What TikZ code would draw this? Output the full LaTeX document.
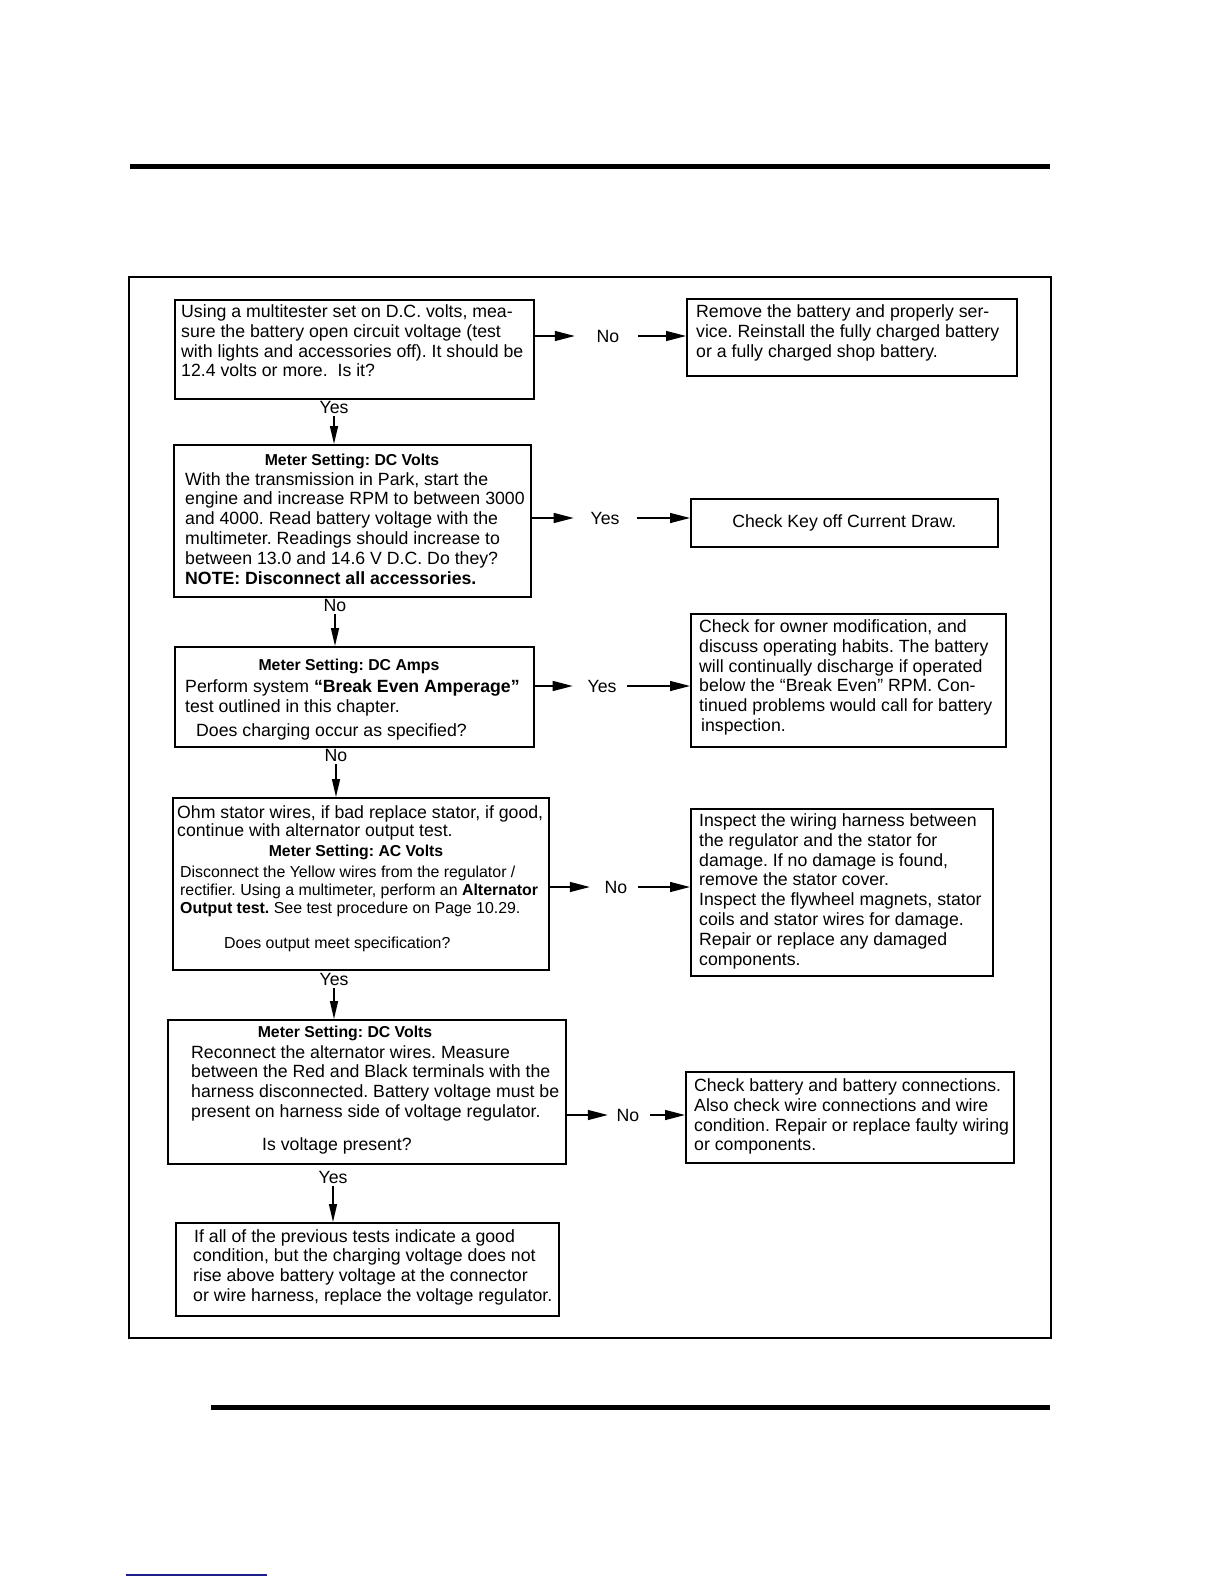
\documentclass[tikz,border=0pt]{standalone}
\usepackage{fontspec}
\setmainfont{Liberation Sans}
\usetikzlibrary{arrows.meta}
\definecolor{linkblue}{RGB}{30,30,140}
\frenchspacing
\newcommand{\fsmain}{\fontsize{17.7}{19.8}\selectfont}
\newcommand{\fssmall}{\fontsize{15.9}{18}\selectfont}
\newcommand{\fshdr}{\bfseries\fontsize{15.8}{18}\selectfont}
\tikzset{
  box/.style={draw, line width=1.6pt, inner sep=0pt, anchor=north west},
  txt/.style={inner sep=0pt, anchor=north west, align=left, font=\fsmain},
  smalltxt/.style={inner sep=0pt, anchor=north west, align=left, font=\fssmall},
  hdr/.style={inner sep=0pt, font=\fshdr},
  lab/.style={inner sep=0pt, font=\fsmain},
  harr/.style={line width=1.4pt, -{Triangle[length=20pt,width=10pt]}},
  varr/.style={line width=1.4pt, -{Triangle[length=18pt,width=8pt]}},
}
\begin{document}
\begin{tikzpicture}[x=1pt,y=-1pt]
\useasboundingbox (0,0) rectangle (1224,1584);
% page rules and frame
\draw[line width=5pt] (130,166) -- (1050,166);
\draw[line width=5pt] (211,1407) -- (1050,1407);
\draw[line width=1.8pt] (129,277) rectangle (1051,1338);
\draw[linkblue, line width=1.2pt] (126,1575) -- (267,1575);

% left column boxes
\node[box, minimum width=359pt, minimum height=99pt]  (B1) at (174,299) {};
\node[box, minimum width=357pt, minimum height=152pt] (B2) at (173,444) {};
\node[box, minimum width=359pt, minimum height=100pt] (B3) at (174,646) {};
\node[box, minimum width=376pt, minimum height=172pt] (B4) at (172,797) {};
\node[box, minimum width=398pt, minimum height=144pt] (B5) at (167,1019) {};
\node[box, minimum width=383pt, minimum height=93pt]  (B6) at (175,1222) {};

% right column boxes
\node[box, minimum width=330pt, minimum height=77pt]  (R1) at (686,298) {};
\node[box, minimum width=307pt, minimum height=48pt, font=\fsmain] (R2) at (690,498) {Check Key off Current Draw.};
\node[box, minimum width=315pt, minimum height=133pt] (R3) at (690,613) {};
\node[box, minimum width=302pt, minimum height=167pt] (R4) at (690,808) {};
\node[box, minimum width=328pt, minimum height=91pt]  (R5) at (685,1071) {};

% texts in left boxes
\node[txt] (tB1) at (181,304.5) {Using a multitester set on D.C. volts, mea-\\
sure the battery open circuit voltage (test\\
with lights and accessories off). It should be\\
12.4 volts or more.\ \ Is it?};

\node[hdr] (hB2) at (352,461) {Meter Setting: DC Volts};
\node[txt] (tB2) at (185,472) {With the transmission in Park, start the\\
engine and increase RPM to between 3000\\
and 4000. Read battery voltage with the\\
multimeter. Readings should increase to\\
between 13.0 and 14.6 V D.C. Do they?\\
\textbf{NOTE: Disconnect all accessories.}};

\node[hdr] (hB3) at (349,666.5) {Meter Setting: DC Amps};
\node[txt] (tB3) at (185,679.5) {Perform system \textbf{“Break Even Amperage”}\\
test outlined in this chapter.\\[4.2pt]
\hspace*{11pt}Does charging occur as specified?};

\node[txt, font=\fontsize{17.7}{18}\selectfont] (tB4a) at (177,805) {Ohm stator wires, if bad replace stator, if good,\\
continue with alternator output test.};
\node[hdr] (hB4) at (356,852) {Meter Setting: AC Volts};
\node[smalltxt] (tB4b) at (180,866) {Disconnect the Yellow wires from the regulator /\\
rectifier. Using a multimeter, perform an \textbf{Alternator}\\
\textbf{Output test.} See test procedure on Page 10.29.\\[17pt]
\hspace*{44pt}Does output meet specification?};

\node[hdr] (hB5) at (345,1033) {Meter Setting: DC Volts};
\node[txt] (tB5) at (191,1045) {Reconnect the alternator wires. Measure\\
between the Red and Black terminals with the\\
harness disconnected. Battery voltage must be\\
present on harness side of voltage regulator.\\[13.2pt]
\hspace*{71pt}Is voltage present?};

\node[txt] (tB6) at (193,1229) {\hspace*{1pt}If all of the previous tests indicate a good\\
condition, but the charging voltage does not\\
rise above battery voltage at the connector\\
or wire harness, replace the voltage regulator.};

% texts in right boxes
\node[txt] (tR1) at (696,304.5) {Remove the battery and properly ser-\\
vice. Reinstall the fully charged battery\\
or a fully charged shop battery.};

\node[txt] (tR3) at (699,619.5) {Check for owner modification, and\\
discuss operating habits. The battery\\
will continually discharge if operated\\
below the “Break Even” RPM. Con-\\
tinued problems would call for battery\\
\hspace*{2pt}inspection.};

\node[txt] (tR4) at (699,813.5) {Inspect the wiring harness between\\
the regulator and the stator for\\
damage. If no damage is found,\\
remove the stator cover.\\
Inspect the flywheel magnets, stator\\
coils and stator wires for damage.\\
Repair or replace any damaged\\
components.};

\node[txt] (tR5) at (694,1078.5) {Check battery and battery connections.\\
Also check wire connections and wire\\
condition. Repair or replace faulty wiring\\
or components.};

% horizontal connectors
\node[lab] (n1) at (608,336) {No};
\draw[harr, shorten >=21.7pt] (B1.east |- n1) -- (n1.west);
\draw[harr, shorten <=18.7pt] (n1.east) -- (n1 -| R1.west);

\node[lab] (n2) at (605,518) {Yes};
\draw[harr, shorten >=16.7pt] (B2.east |- n2) -- (n2.west);
\draw[harr, shorten <=17.7pt] (n2.east) -- (n2 -| R2.west);

\node[lab] (n3) at (602,686) {Yes};
\draw[harr, shorten >=14.7pt] (B3.east |- n3) -- (n3.west);
\draw[harr, shorten <=10.7pt] (n3.east) -- (n3 -| R3.west);

\node[lab] (n4) at (616,887) {No};
\draw[harr, shorten >=14.7pt] (B4.east |- n4) -- (n4.west);
\draw[harr, shorten <=10.7pt] (n4.east) -- (n4 -| R4.west);

\node[lab] (n5) at (628,1115) {No};
\draw[harr, shorten >=8.7pt] (B5.east |- n5) -- (n5.west);
\draw[harr, shorten <=10.7pt] (n5.east) -- (n5 -| R5.west);

% vertical connectors
\node[lab] (v1) at (334,407) {Yes};
\draw[varr, shorten <=3pt] (v1.south) -- (v1.south |- B2.north);
\node[lab] (v2) at (335,605) {No};
\draw[varr, shorten <=3pt] (v2.south) -- (v2.south |- B3.north);
\node[lab] (v3) at (336,755) {No};
\draw[varr, shorten <=3pt] (v3.south) -- (v3.south |- B4.north);
\node[lab] (v4) at (334,979) {Yes};
\draw[varr, shorten <=3pt] (v4.south) -- (v4.south |- B5.north);
\node[lab] (v5) at (333,1177) {Yes};
\draw[varr, shorten <=3pt] (v5.south) -- (v5.south |- B6.north);
\end{tikzpicture}
\end{document}
